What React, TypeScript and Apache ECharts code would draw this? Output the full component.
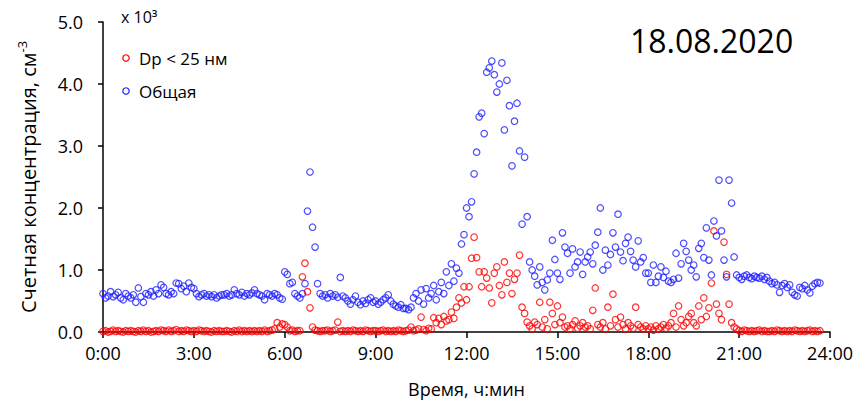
import React, { useEffect, useRef } from "react";
import * as echarts from "echarts";

// time grid: one value every 5 minutes, starting at 0:00
const STEP_MIN = 5;
const xTicks = [0, 3, 6, 9, 12, 15, 18, 21, 24];
const yTicks = [0, 1, 2, 3, 4, 5];

// Общая (total), x10^3 cm^-3
const totalConc = [
  0.62, 0.55, 0.58, 0.65, 0.57, 0.60, 0.64, 0.55, 0.52, 0.62, 0.58, 0.55,
  0.60, 0.48, 0.71, 0.57, 0.48, 0.62, 0.60, 0.65, 0.58, 0.68, 0.62, 0.76,
  0.72, 0.62, 0.60, 0.65, 0.62, 0.79, 0.78, 0.70, 0.74, 0.65, 0.79, 0.72,
  0.70, 0.62, 0.57, 0.60, 0.62, 0.58, 0.60, 0.57, 0.60, 0.55, 0.58, 0.60,
  0.60, 0.62, 0.58, 0.60, 0.68, 0.62, 0.60, 0.64, 0.58, 0.62, 0.60, 0.63,
  0.68, 0.62, 0.60, 0.58, 0.52, 0.62, 0.60, 0.58, 0.62, 0.60, 0.55, 0.53,
  0.97, 0.93, 0.78, 0.80, 0.62, 0.58, 0.55, 0.62, 0.78, 1.95, 2.58, 1.69,
  1.37, 0.78, 0.62, 0.58, 0.60, 0.55, 0.62, 0.58, 0.60, 0.56, 0.88, 0.58,
  0.55, 0.50, 0.45, 0.52, 0.58, 0.48, 0.44, 0.50, 0.46, 0.52, 0.55, 0.48,
  0.50, 0.45, 0.48, 0.52, 0.55, 0.60, 0.50, 0.45, 0.42, 0.40, 0.44, 0.38,
  0.38, 0.36, 0.40, 0.55, 0.62, 0.50, 0.68, 0.45, 0.70, 0.55, 0.62, 0.75,
  0.52, 0.65, 0.80, 0.62, 0.97, 0.75, 1.10, 0.82, 1.03, 0.95, 1.42, 1.57,
  2.00, 1.86, 2.10, 2.55, 2.90, 3.47, 3.53, 3.20, 4.19, 4.26, 4.37, 4.15,
  3.87, 4.00, 4.34, 3.26, 4.06, 3.65, 2.68, 3.40, 3.69, 2.92, 1.74, 2.82,
  1.86, 1.13, 1.00, 0.90, 0.76, 1.05, 0.80, 0.68, 0.84, 0.95, 1.48, 1.17,
  0.95, 0.85, 1.60, 1.37, 1.27, 0.95, 1.34, 1.05, 1.13, 1.29, 0.93, 1.13,
  1.21, 1.29, 1.10, 1.40, 1.61, 2.00, 1.00, 1.32, 1.08, 1.25, 1.60, 1.37,
  1.90, 1.29, 1.15, 1.43, 1.53, 1.30, 1.16, 1.05, 1.47, 1.13, 1.20, 0.95,
  0.95, 0.80, 1.08, 0.80, 0.90, 1.05, 0.88, 0.98, 0.82, 0.80, 0.85, 1.27,
  0.87, 1.10, 1.43, 1.30, 1.16, 1.00, 1.08, 0.89, 1.35, 1.43, 1.20, 1.68,
  1.16, 0.92, 1.79, 1.55, 2.45, 1.63, 1.16, 0.89, 2.45, 2.08, 1.21, 0.92,
  0.88, 0.85, 0.90, 0.92, 0.88, 0.86, 0.90, 0.88, 0.87, 0.90, 0.85, 0.88,
  0.82, 0.78, 0.80, 0.76, 0.64, 0.75, 0.78, 0.72, 0.76, 0.64, 0.60, 0.58,
  0.72, 0.70, 0.75, 0.68, 0.63, 0.74, 0.78, 0.80, 0.79,
];

// Dp < 25 нм, x10^3 cm^-3
const smallConc = [
  0.01, 0.02, 0.00, 0.01, 0.03, 0.01, 0.02, 0.01, 0.00, 0.02, 0.01, 0.02,
  0.01, 0.00, 0.02, 0.01, 0.03, 0.01, 0.02, 0.00, 0.01, 0.02, 0.01, 0.03,
  0.02, 0.01, 0.03, 0.01, 0.02, 0.04, 0.01, 0.02, 0.01, 0.03, 0.02, 0.01,
  0.02, 0.01, 0.03, 0.02, 0.01, 0.02, 0.01, 0.00, 0.02, 0.01, 0.02, 0.01,
  0.01, 0.02, 0.01, 0.00, 0.02, 0.01, 0.03, 0.01, 0.02, 0.01, 0.02, 0.01,
  0.02, 0.01, 0.02, 0.01, 0.03, 0.01, 0.02, 0.03, 0.05, 0.15, 0.08, 0.13,
  0.12, 0.08, 0.02, 0.03, 0.01, 0.02, 0.02, 0.89, 1.11, 0.65, 0.39, 0.08,
  0.03, 0.02, 0.01, 0.02, 0.02, 0.03, 0.01, 0.02, 0.03, 0.16, 0.01, 0.02,
  0.01, 0.02, 0.01, 0.03, 0.02, 0.01, 0.02, 0.01, 0.03, 0.02, 0.01, 0.02,
  0.02, 0.01, 0.02, 0.03, 0.01, 0.02, 0.01, 0.02, 0.01, 0.03, 0.02, 0.01,
  0.02, 0.03, 0.08, 0.02, 0.03, 0.05, 0.24, 0.04, 0.02, 0.06, 0.05, 0.23,
  0.15, 0.22, 0.12, 0.25, 0.18, 0.20, 0.32, 0.22, 0.40, 0.55, 0.47, 0.73,
  0.52, 0.73, 1.19, 1.53, 1.20, 0.97, 0.73, 0.97, 0.87, 0.71, 0.47, 0.95,
  1.05, 0.75, 0.60, 1.13, 0.80, 0.95, 0.62, 0.85, 0.95, 1.24, 0.40, 0.30,
  0.16, 0.10, 0.05, 0.16, 0.12, 0.48, 0.08, 0.20, 0.05, 0.48, 0.30, 0.12,
  0.42, 0.15, 0.24, 0.08, 0.10, 0.05, 0.12, 0.18, 0.06, 0.10, 0.15, 0.08,
  0.10, 0.05, 0.35, 0.71, 0.12, 0.08, 0.15, 0.05, 0.40, 0.10, 0.61, 0.20,
  0.08, 0.24, 0.12, 0.05, 0.15, 0.10, 0.06, 0.40, 0.12, 0.08, 0.05, 0.10,
  0.05, 0.08, 0.03, 0.10, 0.05, 0.08, 0.12, 0.06, 0.10, 0.15, 0.30, 0.08,
  0.42, 0.20, 0.10, 0.15, 0.25, 0.30, 0.15, 0.10, 0.42, 0.20, 0.55, 0.25,
  0.39, 0.79, 1.63, 0.45, 0.30, 0.20, 1.45, 0.93, 0.45, 0.15, 0.08, 0.05,
  0.02, 0.01, 0.03, 0.02, 0.01, 0.02, 0.01, 0.02, 0.03, 0.01, 0.02, 0.01,
  0.01, 0.02, 0.01, 0.03, 0.02, 0.01, 0.02, 0.01, 0.02, 0.01, 0.03, 0.02,
  0.01, 0.02, 0.01, 0.02, 0.03, 0.01, 0.02, 0.01, 0.02,
];

const seriesNames = ["Dp < 25 нм", "Общая"];
const dateTitle = "18.08.2020";
const unitText = "x 10³";

const FONT = "'Open Sans', 'Noto Sans', sans-serif";
const RED = "#ff0000";
const BLUE = "#1f1fff";

const toPairs = (arr: number[]) =>
  arr.map((v, i) => [(i * STEP_MIN) / 60, v]);

export default function App() {
  const ref = useRef<HTMLDivElement>(null);
  useEffect(() => {
    if (!ref.current) return;
    const chart = echarts.init(ref.current, undefined, { renderer: "svg" });
    chart.setOption({
      animation: false,
      backgroundColor: "#ffffff",
      textStyle: { fontFamily: FONT },
      grid: { left: 103, right: 18, top: 22, bottom: 71, containLabel: false },
      xAxis: {
        type: "value",
        min: xTicks[0],
        max: xTicks[xTicks.length - 1],
        interval: 3,
        axisLine: { lineStyle: { color: "#000", width: 1.5 } },
        axisTick: { show: true, length: 6, lineStyle: { color: "#000", width: 1.5 } },
        splitLine: { show: false },
        axisLabel: {
          color: "#000",
          fontSize: 18,
          fontFamily: FONT,
          margin: 12,
          formatter: (v: number) => `${v}:00`,
        },
        name: "Время, ч:мин",
        nameLocation: "middle",
        nameGap: 48,
        nameTextStyle: { color: "#000", fontSize: 18, fontFamily: FONT },
      },
      yAxis: {
        type: "value",
        min: yTicks[0],
        max: yTicks[yTicks.length - 1],
        interval: 1,
        axisLine: { show: true, lineStyle: { color: "#000", width: 1.5 } },
        axisTick: { show: true, length: 5, lineStyle: { color: "#000", width: 1.5 } },
        splitLine: { show: false },
        axisLabel: {
          color: "#000",
          fontSize: 18,
          fontFamily: FONT,
          margin: 20,
          formatter: (v: number) => v.toFixed(1),
        },
        name: "{b|Счетная концентрация, см}{s|-3}",
        nameLocation: "middle",
        nameGap: 62,
        nameTextStyle: {
          rich: {
            b: { fontSize: 20, color: "#000", fontFamily: FONT, lineHeight: 26 },
            s: { fontSize: 13, color: "#000", fontFamily: FONT, verticalAlign: "top", lineHeight: 14 },
          },
        },
      },
      series: [
        {
          name: seriesNames[0],
          type: "scatter",
          symbol: "circle",
          symbolSize: 6.5,
          data: toPairs(smallConc),
          itemStyle: { color: "rgba(0,0,0,0)", borderColor: RED, borderWidth: 1.2 },
          z: 2,
        },
        {
          name: seriesNames[1],
          type: "scatter",
          symbol: "circle",
          symbolSize: 6.5,
          data: toPairs(totalConc),
          itemStyle: { color: "rgba(0,0,0,0)", borderColor: BLUE, borderWidth: 1.2 },
          z: 3,
        },
      ],
      graphic: [
        {
          type: "text",
          left: 121,
          top: 9,
          style: { text: unitText, fontSize: 16, fill: "#000", fontFamily: FONT },
        },
        {
          type: "circle",
          shape: { cx: 126, cy: 58, r: 3.2 },
          style: { fill: "none", stroke: RED, lineWidth: 1.2 },
        },
        {
          type: "text",
          x: 139,
          y: 58,
          style: {
            text: seriesNames[0],
            fontSize: 17,
            fill: "#000",
            fontFamily: FONT,
            verticalAlign: "middle",
          },
        },
        {
          type: "circle",
          shape: { cx: 126, cy: 91, r: 3.2 },
          style: { fill: "none", stroke: BLUE, lineWidth: 1.2 },
        },
        {
          type: "text",
          x: 139,
          y: 91,
          style: {
            text: seriesNames[1],
            fontSize: 17,
            fill: "#000",
            fontFamily: FONT,
            verticalAlign: "middle",
          },
        },
        {
          type: "text",
          x: 630,
          y: 40,
          style: {
            text: dateTitle,
            fontSize: 32,
            fill: "#000",
            fontFamily: FONT,
            verticalAlign: "middle",
          },
        },
      ],
    });
    return () => chart.dispose();
  }, []);
  return (
    <div
      ref={ref}
      style={{ position: "absolute", left: 0, top: 0, width: 856, height: 403 }}
    />
  );
}
